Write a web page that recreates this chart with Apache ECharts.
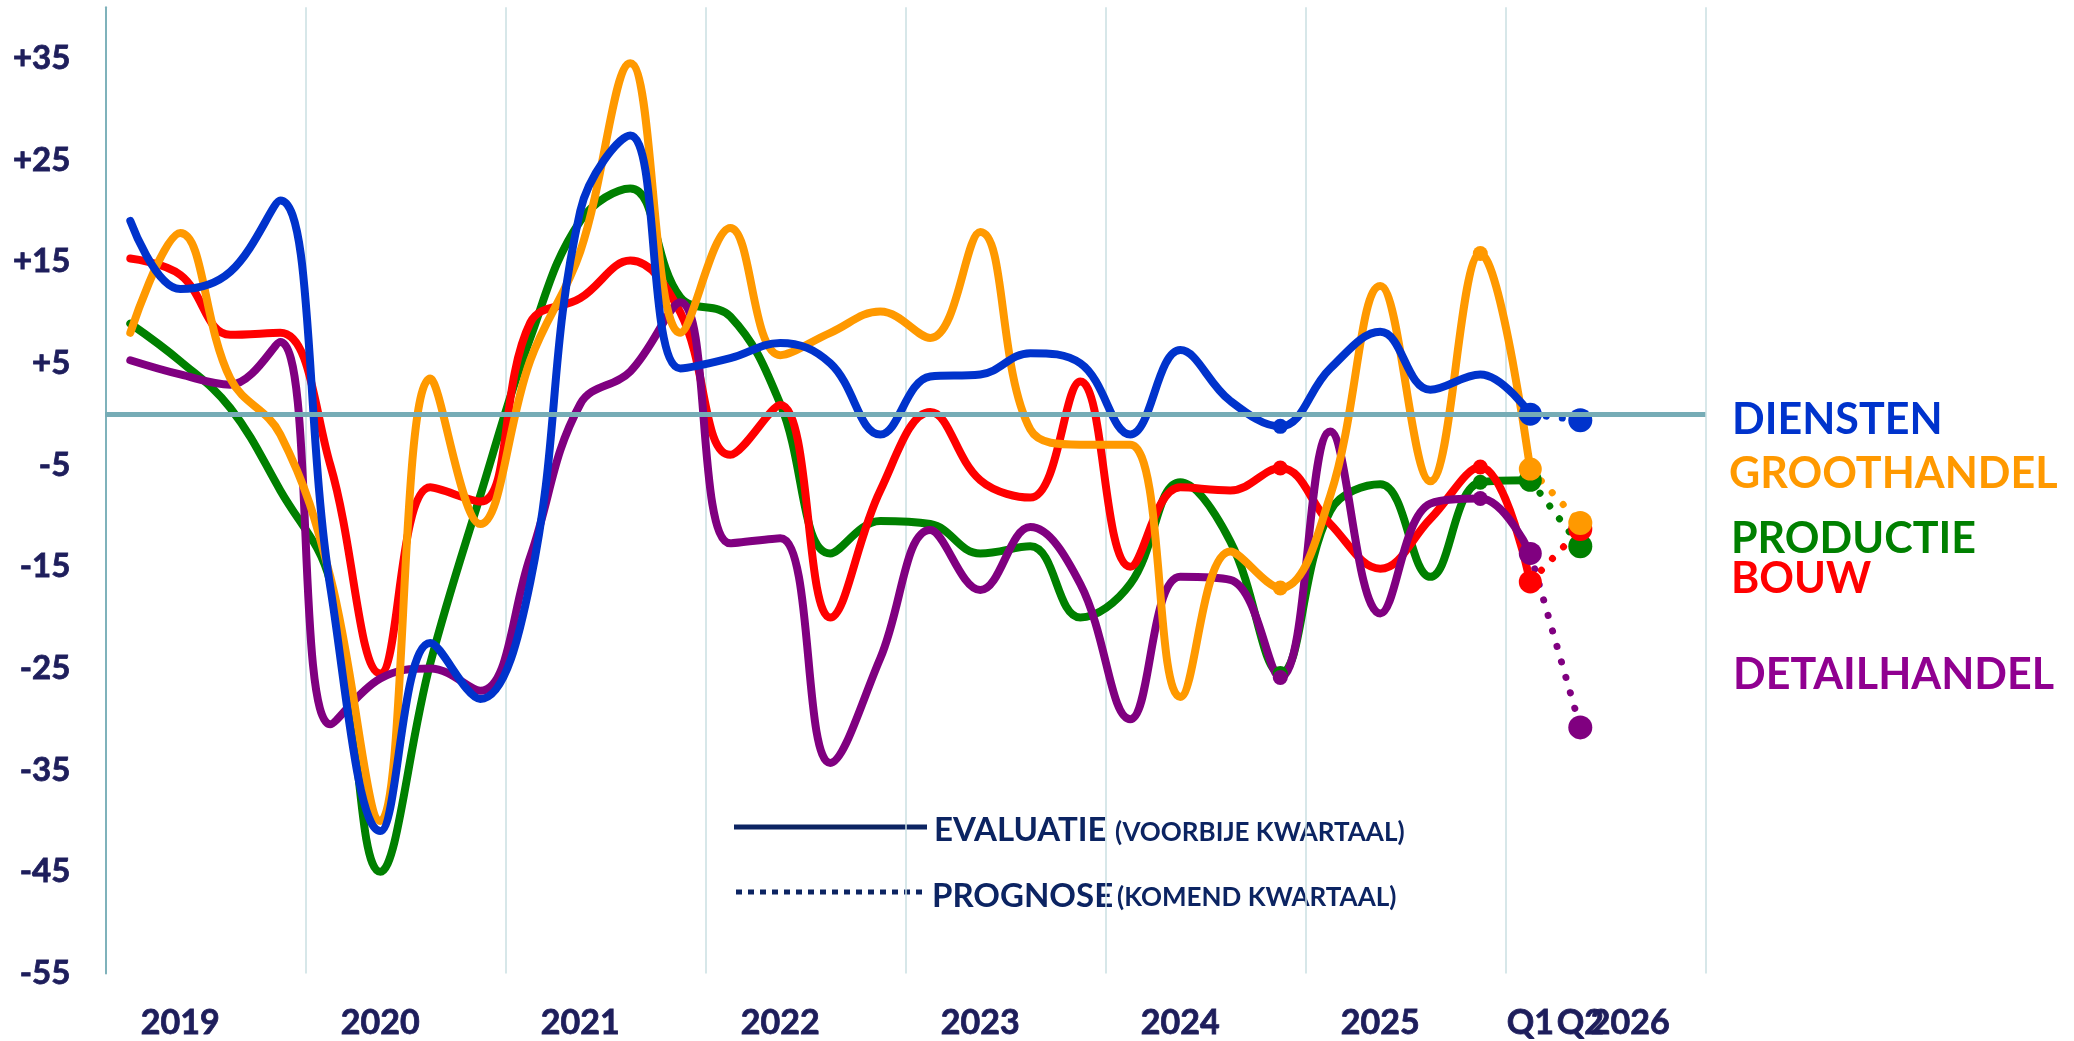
<!DOCTYPE html>
<html>
<head>
<meta charset="utf-8">
<script src="https://cdn.jsdelivr.net/npm/echarts@6/dist/echarts.min.js"></script>
<style>html,body{margin:0;padding:0;background:#fff}#c{width:2074px;height:1041px}</style>
</head>
<body>
<div id="c"></div>
<script>
// ---- data ----
const years = ['2019', '2020', '2021', '2022', '2023', '2024', '2025', '2026'];
const quarterNames = ['Q1', 'Q2', 'Q3', 'Q4'];
// tick labels shown under the quarter axis, and the quarter each one sits under
const tickLabelAt = ['2019 Q2', '2020 Q2', '2021 Q2', '2022 Q2', '2023 Q2', '2024 Q2', '2025 Q2', '2026 Q1', '2026 Q2', '2026 Q3'];
const tickLabels  = ['2019', '2020', '2021', '2022', '2023', '2024', '2025', 'Q1', 'Q2', '2026'];

const diensten     = [19, 12.3, 14, 21, -17, -41, -22.5, -28, -16.5, 20, 27.4, 4.5, 5.5, 7, 5, -2, 3.7, 3.9, 6, 5, -2, 6.3, 1.3, -1.2, 4.5, 8.1, 2.4, 3.9, 0];
const groothandel  = [8, 17.8, 3.5, -2, -16, -40, 3.5, -10.8, 5.3, 16, 34.5, 8, 18.3, 5.8, 8, 10.1, 7.5, 17.9, -1.5, -3, -3, -27.8, -13.5, -17.1, -8, 12.6, -6.6, 15.8, -5.4];
const productie    = [8.9, 5.2, 0.6, -7.5, -16.5, -45, -24.5, -8, 7.5, 19, 22.2, 11.5, 9.6, 1, -13.7, -10.5, -10.8, -13.7, -13, -20, -16.7, -6.7, -12.5, -25.5, -9.5, -6.9, -16, -6.7, -6.5];
const bouw         = [15.3, 13.7, 7.8, 8, -5, -25.5, -7.2, -8.6, 9, 11.4, 15.1, 10, -4, 0.9, -20, -7.5, 0.2, -6.5, -8.2, 3.2, -15, -7.2, -7.5, -5.3, -10.8, -15.2, -10.3, -5.2, -16.5];
const detailhandel = [5.3, 3.9, 2.9, 7.1, -30.5, -26, -25, -27.2, -14, 1, 4.2, 11, -12.7, -12.2, -34.3, -24, -11.4, -17.3, -11.1, -16.7, -30, -16, -16.3, -25.9, -1.7, -19.6, -8.8, -8.3, -13.7];

// prognosis for the coming quarter (2026 Q2)
const prognoseDiensten = -0.6;
const prognoseGroothandel = -10.7;
const prognoseProductie = -13;
const prognoseBouw = -11.3;
const prognoseDetailhandel = -30.8;

// indices of highlighted points
const markedDiensten = [23];
const markedOthers = [23, 27];

// ---- build ----
const quarterCats = [];
years.forEach(y => quarterNames.forEach(q => quarterCats.push(y + ' ' + q)));

const seriesDefs = [
  { name: 'PRODUCTIE', values: productie, prog: prognoseProductie, color: '#008000', marked: markedOthers },
  { name: 'BOUW', values: bouw, prog: prognoseBouw, color: '#ff0000', marked: markedOthers },
  { name: 'DETAILHANDEL', values: detailhandel, prog: prognoseDetailhandel, color: '#800080', marked: markedOthers },
  { name: 'GROOTHANDEL', values: groothandel, prog: prognoseGroothandel, color: '#ff9900', marked: markedOthers },
  { name: 'DIENSTEN', values: diensten, prog: prognoseDiensten, color: '#0033cc', marked: markedDiensten }
];

const series = [{
  type: 'line', name: 'nul', data: [], z: 1, silent: true,
  markLine: {
    silent: true, symbol: ['none', 'none'], label: { show: false },
    lineStyle: { color: '#76acb6', width: 5, type: 'solid' },
    emphasis: { disabled: true },
    data: [{ yAxis: 0 }]
  }
}];

seriesDefs.forEach(d => {
  const last = d.values.length - 1;
  const data = d.values.map((v, i) => {
    if (i === last) return { value: v, symbol: 'circle', symbolSize: 23 };
    if (d.marked.indexOf(i) >= 0) return { value: v, symbol: 'circle', symbolSize: 15 };
    return { value: v, symbol: 'none' };
  });
  series.push({
    type: 'line', name: d.name, data: data, smooth: 0.4, z: 3,
    showSymbol: true, showAllSymbol: true, symbol: 'none',
    lineStyle: { color: d.color, width: 8, cap: 'round', join: 'round' },
    itemStyle: { color: d.color, borderWidth: 0 },
    emphasis: { disabled: true }, animation: false
  });
  const prog = d.values.map(() => null);
  prog[last] = { value: d.values[last], symbol: 'none' };
  prog.push({ value: d.prog, symbol: 'circle', symbolSize: 24 });
  series.push({
    type: 'line', name: d.name + ' prognose', data: prog, z: 2,
    showSymbol: true, showAllSymbol: true, symbol: 'none',
    lineStyle: { color: d.color, width: 7, type: [0.1, 16], cap: 'round' },
    itemStyle: { color: d.color, borderWidth: 0 },
    emphasis: { disabled: true }, animation: false
  });
});

const navy = '#1e1e5c';
const legendNavy = '#0c2462';
const font = 'Lato';

const option = {
  animation: false,
  grid: { left: 105.3, right: 368.7, top: 7.35, bottom: 67.5, containLabel: false, outerBoundsMode: 'none' },
  xAxis: [{
    type: 'category', data: quarterCats, boundaryGap: true, position: 'bottom',
    axisLine: { show: false }, axisTick: { show: false }, splitLine: { show: false },
    axisLabel: {
      interval: 0, margin: 33, color: navy, fontFamily: font, fontWeight: 'bold', fontSize: 34,
      textBorderColor: navy, textBorderWidth: 0.8,
      formatter: v => {
        const k = tickLabelAt.indexOf(v);
        return k >= 0 ? tickLabels[k] : '';
      }
    }
  }, {
    type: 'category', data: years, boundaryGap: true, position: 'bottom',
    axisLine: { show: false }, axisTick: { show: false },
    splitLine: { show: true, lineStyle: { color: '#cadfe2', width: 1.5 } },
    axisLabel: { show: false }
  }],
  yAxis: {
    type: 'value', min: -55, max: 40, interval: 10,
    axisLine: { show: true, lineStyle: { color: '#7fb2bb', width: 2 } },
    axisTick: { show: false }, splitLine: { show: false },
    axisLabel: {
      margin: 35, color: navy, fontFamily: font, fontWeight: 'bold', fontSize: 33,
      textBorderColor: navy, textBorderWidth: 0.8,
      formatter: v => {
        if (Math.round(v + 55) % 10 !== 0) return '';
        return v > 0 ? '+' + v : String(v);
      }
    }
  },
  series: series,
  graphic: [
    { type: 'line', shape: { x1: 734, y1: 827, x2: 927, y2: 827 }, style: { stroke: legendNavy, lineWidth: 5 } },
    { type: 'line', shape: { x1: 736, y1: 892, x2: 922, y2: 892 }, style: { stroke: legendNavy, lineWidth: 5, lineDash: [6, 6] } },
    { type: 'text', x: 934, y: 830, style: { text: 'EVALUATIE', fill: legendNavy, font: 'bold 33px Lato', align: 'left', verticalAlign: 'middle' } },
    { type: 'text', x: 1115, y: 833, style: { text: '(VOORBIJE KWARTAAL)', fill: legendNavy, font: 'bold 26px Lato', align: 'left', verticalAlign: 'middle' } },
    { type: 'text', x: 932, y: 896, style: { text: 'PROGNOSE', fill: legendNavy, font: 'bold 33px Lato', align: 'left', verticalAlign: 'middle' } },
    { type: 'text', x: 1117, y: 898, style: { text: '(KOMEND KWARTAAL)', fill: legendNavy, font: 'bold 26px Lato', align: 'left', verticalAlign: 'middle' } },
    { type: 'text', x: 1732, y: 420, style: { text: 'DIENSTEN', fill: '#0033cc', font: 'bold 43px Lato', align: 'left', verticalAlign: 'middle' } },
    { type: 'text', x: 1729, y: 474, style: { text: 'GROOTHANDEL', fill: '#ff9900', font: 'bold 43px Lato', align: 'left', verticalAlign: 'middle' } },
    { type: 'text', x: 1731, y: 539, style: { text: 'PRODUCTIE', fill: '#008000', font: 'bold 43px Lato', align: 'left', verticalAlign: 'middle' } },
    { type: 'text', x: 1731, y: 579, style: { text: 'BOUW', fill: '#ff0000', font: 'bold 43px Lato', align: 'left', verticalAlign: 'middle' } },
    { type: 'text', x: 1733, y: 675, style: { text: 'DETAILHANDEL', fill: '#900090', font: 'bold 43px Lato', align: 'left', verticalAlign: 'middle' } }
  ]
};

const chart = echarts.init(document.getElementById('c'), null, { renderer: 'canvas' });
chart.setOption(option);
</script>
</body>
</html>
